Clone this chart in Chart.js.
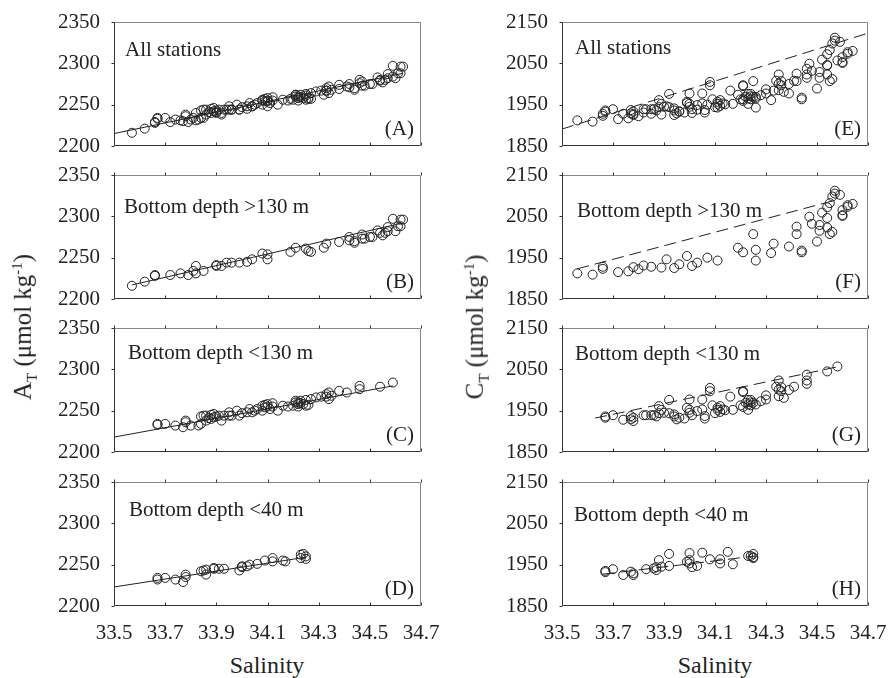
<!DOCTYPE html>
<html>
<head>
<meta charset="utf-8">
<script src="https://cdn.jsdelivr.net/npm/chart.js@4.4.1/dist/chart.umd.min.js"></script>
<style>
  body { margin:0; background:#fff; }
  #wrap { position:relative; width:888px; height:678px; font-family:"Liberation Serif","Times New Roman",serif; color:#222; }
  canvas { position:absolute; }
  .ytitle { position:absolute; transform:translate(-50%,-50%) rotate(-90deg); white-space:nowrap; font-size:25px; }
  .xtitle { position:absolute; transform:translate(-50%,-50%); white-space:nowrap; font-size:24px; }
  sub, sup { font-size:0.6em; }
</style>
</head>
<body>
<div id="wrap">
  <div class="ytitle" style="left:25px;top:327px">A<sub>T</sub> (μmol kg<sup>-1</sup>)</div>
  <div class="ytitle" style="left:477px;top:327px">C<sub>T</sub> (μmol kg<sup>-1</sup>)</div>
  <div class="xtitle" style="left:267px;top:665px">Salinity</div>
  <div class="xtitle" style="left:715px;top:665px">Salinity</div>
</div>
<script>
// ====== AT / CT vs salinity, 8 panels ======
const salTicks = [33.5, 33.7, 33.9, 34.1, 34.3, 34.5, 34.7];
const atTicks = [2200, 2250, 2300, 2350];
const ctTicks = [1850, 1950, 2050, 2150];

// [salinity, AT] bottom depth >130 m
const atDeep = [[33.57,2216],[33.62,2221],[33.66,2229],[33.66,2228],[33.72,2229],[33.76,2231],[33.79,2229],[33.81,2234],[33.82,2240],[33.82,2231],
  [33.85,2234],[33.90,2240],[33.90,2241],[33.92,2240],[33.94,2244],[33.96,2244],[33.99,2244],[34.02,2245],[34.04,2248],[34.08,2255],
  [34.10,2254],[34.10,2248],[34.19,2257],[34.21,2262],[34.25,2261],[34.26,2258],[34.27,2257],[34.32,2262],[34.33,2267],[34.38,2269],
  [34.42,2275],[34.42,2271],[34.44,2268],[34.44,2270],[34.47,2278],[34.47,2273],[34.48,2273],[34.50,2275],[34.51,2275],[34.53,2283],
  [34.54,2280],[34.55,2277],[34.56,2280],[34.57,2282],[34.57,2287],[34.59,2297],[34.60,2282],[34.61,2288],[34.62,2296],[34.62,2288],[34.63,2296]];
// [salinity, AT] bottom depth <130 m
const atShelf = [[33.67,2234],[33.67,2233],[33.70,2234],[33.74,2232],[33.77,2230],[33.78,2236],[33.78,2238],[33.80,2232],[33.83,2232],[33.84,2243],
  [33.84,2234],[33.85,2244],[33.86,2238],[33.86,2244],[33.87,2241],[33.88,2240],[33.88,2245],[33.89,2246],[33.89,2242],[33.90,2243],[33.91,2244],
  [33.92,2238],[33.93,2244],[33.95,2244],[33.95,2248],[33.96,2244],[33.98,2250],[33.99,2244],[34.00,2247],[34.02,2248],[34.03,2252],
  [34.04,2248],[34.05,2250],[34.06,2252],[34.08,2256],[34.08,2250],[34.09,2254],[34.09,2257],[34.10,2258],[34.10,2255],[34.11,2252],[34.12,2259],
  [34.12,2255],[34.14,2250],[34.16,2256],[34.18,2255],[34.20,2256],[34.21,2260],[34.21,2262],[34.22,2258],[34.22,2255],[34.22,2260],[34.23,2262],
  [34.23,2259],[34.24,2258],[34.25,2263],[34.25,2256],[34.26,2257],[34.27,2264],[34.29,2266],[34.31,2267],[34.33,2267],[34.33,2270],[34.34,2272],[34.34,2264],
  [34.35,2268],[34.38,2274],[34.41,2272],[34.46,2280],[34.46,2276],[34.54,2279],[34.59,2284]];
// [salinity, AT] bottom depth <40 m
const atShallow = [[33.67,2234],[33.67,2232],[33.70,2234],[33.74,2232],[33.77,2229],[33.78,2235],[33.78,2238],[33.84,2242],[33.85,2243],[33.86,2238],
  [33.86,2244],[33.89,2246],[33.89,2245],[33.91,2245],[33.93,2245],[33.99,2243],[34.00,2248],[34.00,2247],[34.02,2248],[34.03,2250],
  [34.06,2251],[34.09,2255],[34.12,2258],[34.12,2254],[34.16,2255],[34.17,2254],[34.23,2262],[34.23,2258],[34.24,2263],[34.25,2260],[34.25,2257]];

// [salinity, CT] bottom depth >130 m
const ctDeep = [[33.56,1912],[33.62,1909],[33.66,1928],[33.66,1923],[33.72,1915],[33.76,1917],[33.78,1927],[33.80,1922],[33.82,1931],[33.85,1928],
  [33.89,1926],[33.91,1946],[33.94,1925],[33.96,1934],[33.99,1954],[34.01,1930],[34.03,1938],[34.07,1950],[34.11,1943],[34.19,1974],
  [34.21,1963],[34.25,2007],[34.26,1969],[34.26,1943],[34.32,1961],[34.33,1984],[34.39,1977],[34.42,2025],[34.42,2007],[34.44,1967],
  [34.44,1963],[34.47,2049],[34.48,2032],[34.50,1989],[34.51,2029],[34.51,2015],[34.52,2059],[34.54,2072],[34.54,2046],[34.54,2023],
  [34.55,2007],[34.56,2012],[34.55,2082],[34.56,2098],[34.57,2112],[34.57,2105],[34.59,2102],[34.60,2065],[34.60,2053],[34.60,2051],
  [34.62,2073],[34.62,2077],[34.64,2080]];
// [salinity, CT] bottom depth <130 m
const ctShelf = [[33.67,1936],[33.67,1933],[33.70,1939],[33.74,1928],[33.77,1937],[33.77,1929],[33.78,1925],[33.78,1933],[33.82,1939],[33.83,1939],
  [33.85,1939],[33.86,1939],[33.87,1936],[33.88,1944],[33.88,1961],[33.89,1952],[33.90,1945],[33.92,1976],[33.92,1944],[33.94,1941],
  [33.94,1936],[33.95,1929],[33.96,1933],[33.98,1931],[33.99,1957],[34.00,1952],[34.00,1945],[34.00,1977],[34.01,1939],[34.03,1949],
  [34.05,1977],[34.05,1953],[34.06,1937],[34.06,1931],[34.08,2005],[34.08,1997],[34.09,1963],[34.10,1944],[34.11,1952],[34.11,1957],
  [34.12,1961],[34.12,1947],[34.13,1953],[34.14,1951],[34.16,1984],[34.17,1952],[34.21,1995],[34.21,1997],[34.20,1963],[34.21,1959],
  [34.22,1969],[34.23,1965],[34.23,1976],[34.23,1952],[34.24,1970],[34.24,1963],[34.24,1976],[34.25,1969],[34.26,1965],[34.28,1973],
  [34.30,1987],[34.30,1977],[34.34,2008],[34.35,1985],[34.35,2001],[34.35,2023],[34.36,1997],[34.36,2007],[34.37,1981],[34.39,2000],
  [34.41,2008],[34.46,2015],[34.46,2023],[34.46,2037],[34.54,2045],[34.58,2057]];
// [salinity, CT] bottom depth <40 m
const ctShallow = [[33.67,1935],[33.67,1932],[33.70,1939],[33.74,1925],[33.77,1933],[33.78,1925],[33.78,1929],[33.83,1939],[33.86,1941],[33.87,1937],
  [33.87,1944],[33.88,1961],[33.89,1945],[33.92,1947],[33.92,1976],[33.99,1957],[34.00,1961],[34.00,1953],[34.00,1978],[34.01,1944],
  [34.03,1947],[34.05,1979],[34.08,1963],[34.12,1963],[34.12,1953],[34.15,1981],[34.17,1951],[34.23,1971],[34.24,1971],[34.25,1968],
  [34.25,1976],[34.25,1966]];

// regression lines, end points
const fitA = [[33.5,2215],[34.63,2288]];
const fitB = [[33.57,2217],[34.63,2292]];
const fitC = [[33.5,2218],[34.59,2280]];
const fitD = [[33.5,2223],[34.25,2259]];
const fitE = [[33.5,1891],[34.7,2123]];
const fitF = [[33.56,1923],[34.56,2087]];
const fitG = [[33.63,1932],[34.58,2056]];
const fitH = [[33.66,1927],[34.26,1971]];

const FONT = '"Liberation Serif", "Times New Roman", serif';
const INK = "#222";

const panels = [
  {tag:"A", text:"All stations",        pts: atDeep.concat(atShelf), fit: fitA, ct:false, col:0, row:0, dx:11, dy:34},
  {tag:"B", text:"Bottom depth >130 m", pts: atDeep,                 fit: fitB, ct:false, col:0, row:1, dx:10, dy:38},
  {tag:"C", text:"Bottom depth <130 m", pts: atShelf,                fit: fitC, ct:false, col:0, row:2, dx:14, dy:31},
  {tag:"D", text:"Bottom depth <40 m",  pts: atShallow,              fit: fitD, ct:false, col:0, row:3, dx:15, dy:34},
  {tag:"E", text:"All stations",        pts: ctDeep.concat(ctShelf), fit: fitE, ct:true,  col:1, row:0, dx:13, dy:32},
  {tag:"F", text:"Bottom depth >130 m", pts: ctDeep,                 fit: fitF, ct:true,  col:1, row:1, dx:15, dy:42},
  {tag:"G", text:"Bottom depth <130 m", pts: ctShelf,                fit: fitG, ct:true,  col:1, row:2, dx:13, dy:32},
  {tag:"H", text:"Bottom depth <40 m",  pts: ctShallow,              fit: fitH, ct:true,  col:1, row:3, dx:12, dy:39},
];
const rowTop = [22, 175, 328, 482];
const colLeft = [0, 448];
const colWidth = [450, 440];
const colPadRight = [29, 20];

// box, inward/outward ticks and panel texts
const panelDecor = {
  id: "panelDecor",
  afterDraw(chart, args, o) {
    const {ctx, chartArea:a, scales} = chart;
    const L = Math.round(a.left)+0.5, R = Math.round(a.right)-0.5, T = Math.round(a.top)+0.5, B = Math.round(a.bottom)-0.5;
    ctx.save();
    ctx.lineWidth = 1;
    ctx.strokeStyle = "#888";
    ctx.beginPath(); ctx.moveTo(L,T); ctx.lineTo(R,T); ctx.lineTo(R,B); ctx.stroke();
    ctx.strokeStyle = "#333";
    ctx.beginPath(); ctx.moveTo(L,T); ctx.lineTo(L,B); ctx.lineTo(R,B); ctx.stroke();
    ctx.beginPath();
    scales.x.ticks.forEach(t => {
      const px = Math.round(scales.x.getPixelForValue(t.value)) + 0.5;
      ctx.moveTo(px, B); ctx.lineTo(px, B-3);
      if (o.topTicks) { ctx.moveTo(px, T); ctx.lineTo(px, T-3); }
    });
    scales.y.ticks.forEach(t => {
      const py = Math.round(scales.y.getPixelForValue(t.value)) + 0.5;
      ctx.moveTo(L, py); ctx.lineTo(L-3, py);
    });
    ctx.stroke();
    ctx.fillStyle = INK;
    ctx.font = "21px " + FONT;
    ctx.textBaseline = "alphabetic";
    ctx.textAlign = "left";
    ctx.fillText(o.text, a.left + o.dx, a.top + o.dy);
    ctx.textAlign = "right";
    ctx.fillText("(" + o.tag + ")", a.right - 7, a.bottom - 11);
    ctx.restore();
  }
};

const wrap = document.getElementById("wrap");
panels.forEach(p => {
  const last = p.row === 3;
  const cv = document.createElement("canvas");
  const h = 12 + 124 + (last ? 44 : 12);
  cv.width = colWidth[p.col]; cv.height = h;
  cv.style.left = colLeft[p.col] + "px";
  cv.style.top = (rowTop[p.row] - 12) + "px";
  wrap.insertBefore(cv, wrap.firstChild);
  const yTicks = p.ct ? ctTicks : atTicks;

  new Chart(cv.getContext("2d"), {
    type: "scatter",
    data: {
      datasets: [
        {
          data: p.pts.map(([x,y]) => ({x, y})),
          pointRadius: 4.5, pointHoverRadius: 4.5,
          borderColor: INK, backgroundColor: "rgba(0,0,0,0)", borderWidth: 1
        },
        {
          data: p.fit.map(([x,y]) => ({x, y})),
          showLine: true, pointRadius: 0,
          borderColor: INK, borderWidth: 1,
          borderDash: p.ct ? [12,6] : []
        }
      ]
    },
    options: {
      responsive: false, animation: false, devicePixelRatio: 1,
      layout: {padding: {top:12, right: colPadRight[p.col], left:0, bottom: last ? 0 : 12}},
      plugins: {
        legend: {display:false}, tooltip: {enabled:false},
        panelDecor: {text: p.text, tag: p.tag, dx: p.dx, dy: p.dy, topTicks: p.row > 0}
      },
      scales: {
        x: {
          type: "linear", min: 33.5, max: 34.7,
          afterBuildTicks: s => { s.ticks = salTicks.map(v => ({value:v})); },
          grid: {display:false, drawTicks:false}, border: {display:false},
          ticks: {display: last, padding: 15, color: INK, font: {family: FONT, size: 21},
                  maxRotation: 0, autoSkip: false, callback: v => v.toFixed(1)},
          afterFit: s => { s.height = last ? 44 : 0; s.paddingLeft = 0; s.paddingRight = 0; }
        },
        y: {
          min: yTicks[0], max: yTicks[yTicks.length-1],
          afterBuildTicks: s => { s.ticks = yTicks.map(v => ({value:v})); },
          grid: {display:false, drawTicks:false}, border: {display:false},
          ticks: {padding: 14, color: INK, font: {family: FONT, size: 21}, callback: v => String(v)},
          afterFit: s => { s.width = 114; s.paddingTop = 0; s.paddingBottom = 0; }
        }
      }
    },
    plugins: [panelDecor]
  });
});
</script>
</body>
</html>
